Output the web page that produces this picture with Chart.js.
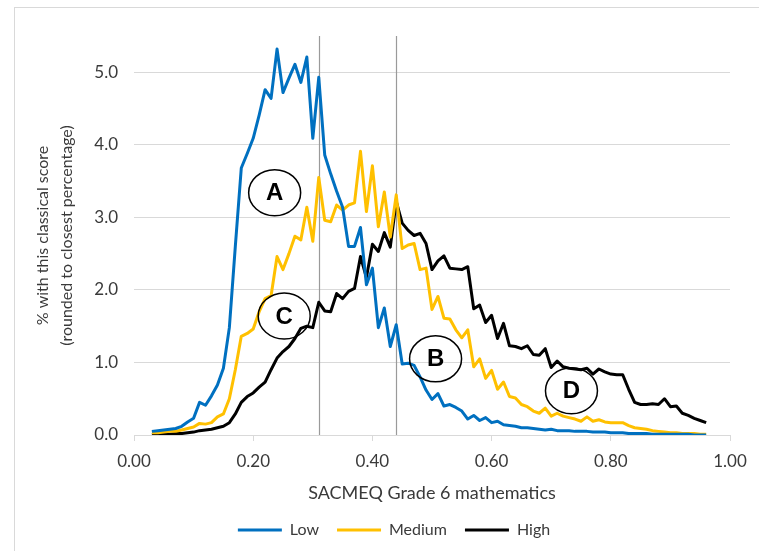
<!DOCTYPE html>
<html>
<head>
<meta charset="utf-8">
<script src="https://cdn.jsdelivr.net/npm/chart.js@4.4.0/dist/chart.umd.min.js"></script>
<style>
  html, body { margin: 0; padding: 0; background: #fff; }
  #wrap { width: 759px; height: 551px; position: relative; }
</style>
</head>
<body>
<div id="wrap"><canvas id="chart" width="759" height="551"></canvas></div>
<script>
// classical score (proportion correct)
const scores = [
  0.03, 0.04, 0.05, 0.06, 0.07, 0.08, 0.09, 0.10, 0.11, 0.12,
  0.13, 0.14, 0.15, 0.16, 0.17, 0.18, 0.19, 0.20, 0.21, 0.22,
  0.23, 0.24, 0.25, 0.26, 0.27, 0.28, 0.29, 0.30, 0.31, 0.32,
  0.33, 0.34, 0.35, 0.36, 0.37, 0.38, 0.39, 0.40, 0.41, 0.42,
  0.43, 0.44, 0.45, 0.46, 0.47, 0.48, 0.49, 0.50, 0.51, 0.52,
  0.53, 0.54, 0.55, 0.56, 0.57, 0.58, 0.59, 0.60, 0.61, 0.62,
  0.63, 0.64, 0.65, 0.66, 0.67, 0.68, 0.69, 0.70, 0.71, 0.72,
  0.73, 0.74, 0.75, 0.76, 0.77, 0.78, 0.79, 0.80, 0.81, 0.82,
  0.83, 0.84, 0.85, 0.86, 0.87, 0.88, 0.89, 0.90, 0.91, 0.92,
  0.93, 0.94, 0.95, 0.96
];

// % of pupils at each score
const low = [
  0.05, 0.06, 0.07, 0.08, 0.09, 0.12, 0.18, 0.23, 0.45, 0.41,
  0.54, 0.69, 0.92, 1.48, 2.60, 3.68, 3.88, 4.09, 4.41, 4.76,
  4.64, 5.32, 4.72, 4.92, 5.11, 4.86, 5.21, 4.09, 4.93, 3.86,
  3.60, 3.36, 3.14, 2.60, 2.60, 2.86, 2.07, 2.30, 1.48, 1.75,
  1.22, 1.52, 0.98, 0.99, 0.96, 0.80, 0.62, 0.49, 0.57, 0.40,
  0.42, 0.38, 0.33, 0.22, 0.27, 0.20, 0.24, 0.17, 0.19, 0.14,
  0.13, 0.12, 0.10, 0.10, 0.09, 0.08, 0.07, 0.08, 0.06, 0.06,
  0.06, 0.05, 0.05, 0.05, 0.04, 0.04, 0.04, 0.03, 0.03, 0.03,
  0.02, 0.02, 0.02, 0.02, 0.01, 0.01, 0.01, 0.01, 0.01, 0.01,
  0.01, 0.00, 0.00, 0.00
];
const medium = [
  0.03, 0.03, 0.04, 0.05, 0.05, 0.07, 0.09, 0.11, 0.16, 0.15,
  0.17, 0.25, 0.29, 0.50, 0.90, 1.36, 1.40, 1.46, 1.70, 1.88,
  1.92, 2.46, 2.28, 2.50, 2.74, 2.69, 3.14, 2.67, 3.55, 2.96,
  2.94, 3.17, 3.10, 3.17, 3.20, 3.91, 3.08, 3.71, 2.87, 3.35,
  2.73, 3.31, 2.57, 2.62, 2.64, 2.28, 2.30, 1.73, 1.91, 1.61,
  1.60, 1.45, 1.34, 1.45, 0.94, 1.05, 0.78, 0.89, 0.63, 0.73,
  0.53, 0.51, 0.42, 0.39, 0.33, 0.30, 0.37, 0.26, 0.30, 0.26,
  0.24, 0.22, 0.19, 0.25, 0.19, 0.21, 0.18, 0.17, 0.17, 0.17,
  0.13, 0.10, 0.09, 0.08, 0.06, 0.05, 0.04, 0.03, 0.03, 0.02,
  0.02, 0.02, 0.01, 0.01
];
const high = [
  0.01, 0.01, 0.01, 0.01, 0.02, 0.02, 0.03, 0.04, 0.06, 0.07,
  0.08, 0.10, 0.12, 0.17, 0.29, 0.45, 0.53, 0.58, 0.66, 0.73,
  0.90, 1.06, 1.15, 1.22, 1.33, 1.47, 1.50, 1.48, 1.83, 1.71,
  1.70, 1.95, 1.88, 1.98, 2.02, 2.46, 2.17, 2.63, 2.53, 2.79,
  2.59, 3.22, 2.92, 2.82, 2.75, 2.78, 2.64, 2.28, 2.40, 2.47,
  2.30, 2.29, 2.28, 2.32, 1.74, 1.79, 1.55, 1.65, 1.33, 1.54,
  1.23, 1.22, 1.19, 1.23, 1.11, 1.10, 1.19, 0.93, 1.02, 0.94,
  0.92, 0.91, 0.90, 0.92, 0.84, 0.91, 0.87, 0.84, 0.83, 0.83,
  0.63, 0.45, 0.42, 0.42, 0.43, 0.42, 0.50, 0.39, 0.40, 0.30,
  0.27, 0.23, 0.20, 0.17
];

const seriesNames = ['Low', 'Medium', 'High'];
const seriesColors = ['#0070c0', '#ffc000', '#000000'];

const xTicks = [0, 0.2, 0.4, 0.6, 0.8, 1.0];
const yTicks = [0, 1, 2, 3, 4, 5];

// vertical cut-off lines
const cutLines = [0.31, 0.44];

// circled labels (x, y in data units)
const labelText = ['A', 'B', 'C', 'D'];
const labelX = [0.236, 0.506, 0.252, 0.734];
const labelY = [3.34, 1.05, 1.64, 0.61];

const FONT = 'Lato, "Open Sans", sans-serif';
const TEXT = '#3a3a3a';

const toPoints = vals => scores.map((x, i) => ({ x: x, y: vals[i] }));

// 背景和外框，图例右移
const framePlugin = {
  id: 'frame',
  afterLayout(chart) {
    chart.legend.left += 24;
    chart.legend.right += 24;
  },
  beforeDraw(chart) {
    const ctx = chart.ctx;
    ctx.save();
    ctx.fillStyle = '#fff';
    ctx.fillRect(0, 0, chart.width, chart.height);
    ctx.strokeStyle = '#d9d9d9';
    ctx.lineWidth = 1;
    ctx.strokeRect(14.5, 7.5, chart.width, chart.height);
    ctx.restore();
  }
};

// 竖线
const cutPlugin = {
  id: 'cuts',
  beforeDatasetsDraw(chart) {
    const ctx = chart.ctx;
    const xs = chart.scales.x;
    const area = chart.chartArea;
    ctx.save();
    ctx.strokeStyle = '#9a9a9a';
    ctx.lineWidth = 1.2;
    cutLines.forEach(v => {
      const px = Math.round(xs.getPixelForValue(v)) + 0.5;
      ctx.beginPath();
      ctx.moveTo(px, area.top);
      ctx.lineTo(px, area.bottom);
      ctx.stroke();
    });
    ctx.restore();
  }
};

// 圆圈字母
const circlePlugin = {
  id: 'circles',
  afterDatasetsDraw(chart) {
    const ctx = chart.ctx;
    const xs = chart.scales.x;
    const ys = chart.scales.y;
    ctx.save();
    ctx.strokeStyle = '#000';
    ctx.lineWidth = 1.5;
    ctx.fillStyle = '#000';
    ctx.font = 'bold 24px "Liberation Sans", Arial, sans-serif';
    ctx.textAlign = 'center';
    ctx.textBaseline = 'middle';
    labelText.forEach((t, i) => {
      const cx = xs.getPixelForValue(labelX[i]);
      const cy = ys.getPixelForValue(labelY[i]);
      ctx.beginPath();
      ctx.ellipse(cx, cy, 26, 23, 0, 0, Math.PI * 2);
      ctx.stroke();
      ctx.fillText(t, cx, cy + 1);
    });
    ctx.restore();
  }
};

const ctx = document.getElementById('chart').getContext('2d');
new Chart(ctx, {
  type: 'line',
  data: {
    datasets: [low, medium, high].map((vals, i) => ({
      label: seriesNames[i],
      data: toPoints(vals),
      borderColor: seriesColors[i],
      backgroundColor: seriesColors[i],
      borderWidth: 3,
      pointRadius: 0,
      tension: 0,
      fill: false,
      borderJoinStyle: 'round'
    }))
  },
  options: {
    responsive: false,
    animation: false,
    layout: { padding: { top: 36, left: 10, right: 29, bottom: 3 } },
    plugins: {
      legend: {
        position: 'bottom',
        labels: {
          usePointStyle: true,
          pointStyle: 'line',
          pointStyleWidth: 44,
          boxHeight: 16,
          padding: 18,
          color: TEXT,
          font: { family: FONT, size: 16 }
        }
      },
      tooltip: { enabled: false }
    },
    scales: {
      x: {
        type: 'linear',
        min: 0,
        max: 1,
        afterBuildTicks: axis => { axis.ticks = xTicks.map(v => ({ value: v })); },
        afterFit: axis => { axis.height = 69; },
        grid: { drawOnChartArea: false, color: '#d9d9d9', tickLength: 6 },
        border: { color: '#d9d9d9' },
        ticks: {
          color: TEXT,
          padding: 10,
          maxRotation: 0,
          font: { family: FONT, size: 17 },
          callback: v => v.toFixed(2)
        },
        title: {
          display: true,
          text: 'SACMEQ Grade 6 mathematics',
          color: TEXT,
          padding: { top: 0, bottom: 0 },
          font: { family: FONT, size: 18 }
        }
      },
      y: {
        min: 0,
        max: 5.5,
        afterBuildTicks: axis => { axis.ticks = yTicks.map(v => ({ value: v })); },
        afterFit: axis => { axis.width = 124; },
        grid: { color: '#d9d9d9', drawTicks: false },
        border: { display: false },
        ticks: {
          color: TEXT,
          padding: 16,
          font: { family: FONT, size: 17 },
          callback: v => v.toFixed(1)
        },
        title: {
          display: true,
          text: ['% with this classical score', '(rounded to closest percentage)'],
          color: TEXT,
          padding: { top: 21, bottom: 0 },
          font: { family: FONT, size: 16, lineHeight: 1.5 }
        }
      }
    }
  },
  plugins: [framePlugin, cutPlugin, circlePlugin]
});
</script>
</body>
</html>
